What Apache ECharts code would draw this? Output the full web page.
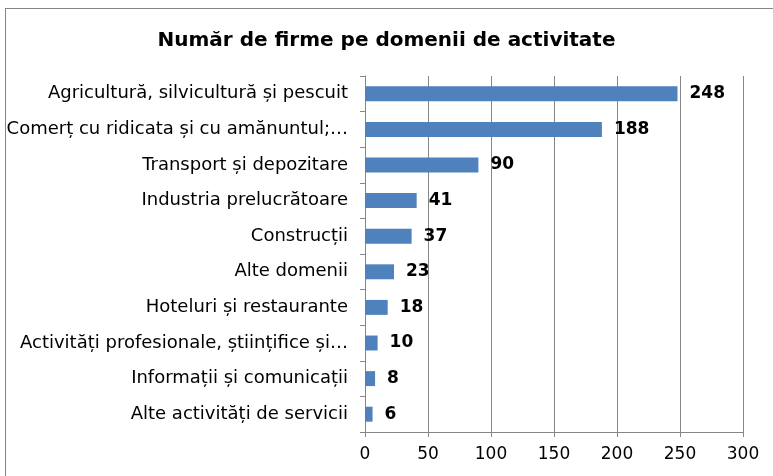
<!DOCTYPE html>
<html>
<head>
<meta charset="utf-8">
<script src="https://cdn.jsdelivr.net/npm/echarts@6/dist/echarts.min.js"></script>
<style>
  html, body { margin: 0; padding: 0; background: #fff; }
  #frame { position: absolute; left: 5px; top: 8px; width: 780px; height: 480px; border: 1px solid #868686; box-sizing: border-box; }
  #main { position: absolute; left: 0; top: 0; width: 773px; height: 476px; }
</style>
</head>
<body>
<div id="frame"></div>
<div id="main"></div>
<script>
  // date (de sus in jos)
  var categorii = [
    'Agricultură, silvicultură și pescuit',
    'Comerț cu ridicata și cu amănuntul;…',
    'Transport și depozitare',
    'Industria prelucrătoare',
    'Construcții',
    'Alte domenii',
    'Hoteluri și restaurante',
    'Activități profesionale, științifice și…',
    'Informații și comunicații',
    'Alte activități de servicii'
  ];
  var firme = [248, 188, 90, 41, 37, 23, 18, 10, 8, 6];
  var titlu = 'Număr de firme pe domenii de activitate';

  var font = '"DejaVu Sans", sans-serif';
  var chart = echarts.init(document.getElementById('main'));
  chart.setOption({
    animation: false,
    title: {
      text: titlu,
      left: 'center',
      top: 26,
      textStyle: { fontFamily: font, fontSize: 20, fontWeight: 'bold', color: '#000' }
    },
    grid: { left: 365, right: 30, top: 76, bottom: 44, containLabel: false },
    xAxis: {
      type: 'value',
      min: 0,
      max: 300,
      interval: 50,
      axisLine: { show: true, lineStyle: { color: '#878787', width: 1 } },
      axisTick: { show: true, length: 5, lineStyle: { color: '#878787' } },
      splitLine: { show: true, lineStyle: { color: '#878787', width: 1 } },
      axisLabel: { fontFamily: font, fontSize: 17, color: '#000', margin: 14 }
    },
    yAxis: {
      type: 'category',
      inverse: true,
      data: categorii,
      axisLine: { show: true, lineStyle: { color: '#878787', width: 1 } },
      axisTick: { show: true, length: 5, lineStyle: { color: '#878787' } },
      axisLabel: { fontFamily: font, fontSize: 18, color: '#000', margin: 17 }
    },
    series: [{
      type: 'bar',
      data: firme,
      barCategoryGap: '58%',
      itemStyle: { color: '#4F81BD' },
      label: {
        show: true,
        position: 'right',
        distance: 12,
        fontFamily: font,
        fontSize: 17,
        fontWeight: 'bold',
        color: '#000'
      }
    }]
  });
  window.onresize = function () {
    chart.resize();
  };
</script>
</body>
</html>
